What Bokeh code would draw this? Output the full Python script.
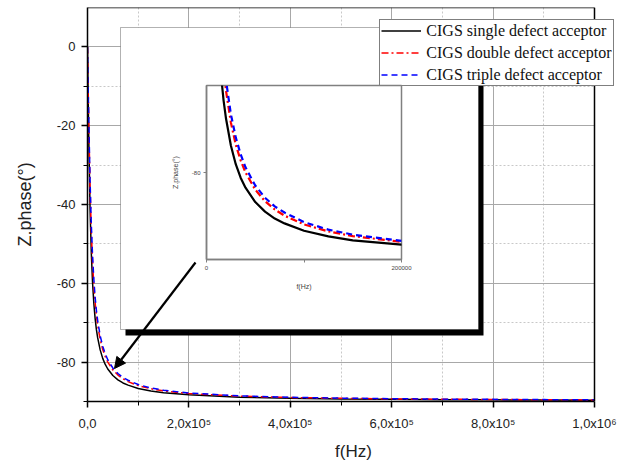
from bokeh.plotting import figure
from bokeh.models import (Range1d, FixedTicker, Legend, LegendItem, BoxAnnotation,
                          Arrow, NormalHead, ColumnDataSource, Span)
from bokeh.layouts import column
from bokeh.embed import file_html
from bokeh.resources import INLINE

# ---------------- data ----------------
freq = [0, 1000, 2500, 5000, 7500, 10000, 12500, 15000, 17500, 20000, 25000, 30000,
        35000, 40000, 50000, 60000, 70000, 80000, 100000, 125000, 150000, 200000,
        300000, 400000, 500000, 600000, 700000, 800000, 900000, 1000000]
phase_single = [0, -9.8, -23.3, -40.8, -52.3, -59.9, -65.1, -68.9, -71.7, -73.8,
                -76.9, -79.05, -80.6, -81.75, -83.4, -84.5, -85.3, -85.85, -86.7,
                -87.35, -87.8, -88.3, -88.9, -89.17, -89.34, -89.45, -89.53, -89.58,
                -89.63, -89.67]
phase_double = [0, -8.1, -19.5, -35.3, -46.8, -54.8, -60.6, -64.8, -68.05, -70.6,
                -74.25, -76.8, -78.6, -80.0, -81.97, -83.3, -84.25, -84.96, -85.97,
                -86.77, -87.31, -87.98, -88.65, -88.99, -89.19, -89.33, -89.42, -89.5,
                -89.55, -89.6]
phase_triple = [0, -7.6, -18.4, -33.7, -45.0, -53.1, -59.0, -63.4, -66.8, -69.4,
                -73.3, -75.96, -77.9, -79.4, -81.5, -82.9, -83.9, -84.6, -85.7,
                -86.57, -87.14, -87.85, -88.57, -88.93, -89.14, -89.28, -89.39, -89.46,
                -89.52, -89.57]
series_names = ["CIGS single defect acceptor", "CIGS double defect acceptor",
                "CIGS triple defect acceptor"]
series_colors = ["#000000", "#ff0000", "#0000ff"]

x_tick_values = [0, 200000, 400000, 600000, 800000, 1000000]
x_tick_labels = ["0,0", "2,0x10\u2075", "4,0x10\u2075", "6,0x10\u2075",
                 "8,0x10\u2075", "1,0x10\u2076"]
x_minor_ticks = [100000, 300000, 500000, 700000, 900000]
y_tick_values = [-80, -60, -40, -20, 0]
y_minor_ticks = [-90, -70, -50, -30, -10]

inset_x_ticks = [0, 100000, 200000]
inset_x_labels = ["0", "", "200000"]
inset_y_ticks = [-80]

src = ColumnDataSource(dict(f=freq, s1=phase_single, s2=phase_double, s3=phase_triple))

# ---------------- layout constants (pixels, page = canvas) ----------------
W, H = 618, 461
ML, MT = 86, 7
FH = 394                    # frame height
MB = H - MT - FH
FW_DATA = 507               # pixels from x=0 to x=1e6
FW = W - ML                 # full frame width (to the canvas edge)
FL, FT = ML, MT
X0, X1, Y0, Y1 = 0, 1000000, -90, 10
XMAX = X0 + (X1 - X0) * FW / FW_DATA


def px(x):
    return X0 + (x - FL) / FW_DATA * (X1 - X0)


def py(y):
    return Y1 - (y - FT) / FH * (Y1 - Y0)


# ---------------- main figure ----------------
p = figure(frame_width=FW, frame_height=FH, x_range=Range1d(X0, XMAX), y_range=Range1d(Y0, Y1),
           output_backend="svg", toolbar_location=None,
           min_border_left=ML, min_border_right=0, min_border_top=MT, min_border_bottom=MB,
           background_fill_color="white", border_fill_color="white")
p.outline_line_color = None

p.xaxis.ticker = FixedTicker(ticks=x_tick_values, minor_ticks=x_minor_ticks)
p.yaxis.ticker = FixedTicker(ticks=y_tick_values, minor_ticks=y_minor_ticks)
p.xaxis.bounds = (X0, X1)
p.xaxis.major_label_overrides = {v: l for v, l in zip(x_tick_values, x_tick_labels)}
p.yaxis.major_label_overrides = {v: str(v) for v in y_tick_values}
for ax in (p.xaxis, p.yaxis):
    ax.axis_line_color = "black"
    ax.axis_line_width = 1.5
    ax.major_tick_line_color = "black"
    ax.major_tick_line_width = 1.5
    ax.minor_tick_line_color = "black"
    ax.minor_tick_line_width = 1
    ax.major_tick_in = 0
    ax.major_tick_out = 6
    ax.minor_tick_in = 0
    ax.minor_tick_out = 4
    ax.major_label_text_font = "Liberation Sans"
    ax.major_label_text_font_size = "13px"
    ax.major_label_text_color = "#222222"
    ax.axis_label_text_font = "Liberation Sans"
    ax.axis_label_text_font_style = "normal"
    ax.axis_label_text_color = "#222222"
p.xaxis.axis_label = "f(Hz)"
p.yaxis.axis_label = "Z.phase(\u00b0)"
p.xaxis.axis_label_text_font_size = "17px"
p.yaxis.axis_label_text_font_size = "18px"
p.xaxis.major_label_standoff = 8
p.xaxis.axis_label_standoff = 8
p.yaxis.major_label_standoff = 6
p.yaxis.axis_label_standoff = 19

for g in (p.xgrid, p.ygrid):
    g.grid_line_color = "#a8a8a8"
    g.grid_line_width = 1
    g.minor_grid_line_color = "#c8c8c8"
    g.minor_grid_line_dash = "2 2"
    g.minor_grid_line_width = 1
p.xgrid.ticker = p.xaxis.ticker
p.ygrid.ticker = p.yaxis.ticker

# blank strip right of the plotting area (the legend overhangs into it)
p.add_layout(BoxAnnotation(left=X1, fill_color="white", fill_alpha=1, line_color=None,
                           level="underlay"))

r1 = p.line("f", "s1", source=src, line_color=series_colors[0], line_width=1.5)
r2 = p.line("f", "s2", source=src, line_color=series_colors[1], line_width=1.5, line_dash="7 3 2 3")
r3 = p.line("f", "s3", source=src, line_color=series_colors[2], line_width=1.5, line_dash="6 4")

# right and top borders of the plotting area
p.add_layout(Span(location=X1, dimension="height", line_color="black", line_width=1.5))
p.segment(x0=[X0], y0=[Y1], x1=[X1], y1=[Y1], line_color="black", line_width=1.5)

# inset box with shadow
p.add_layout(BoxAnnotation(left=px(124), right=px(482), top=py(32), bottom=py(335),
                           fill_color="black", fill_alpha=1, line_color=None, level="annotation"))
p.add_layout(BoxAnnotation(left=px(119), right=px(477), top=py(27), bottom=py(329),
                           fill_color="white", fill_alpha=1, line_color="black", line_width=1,
                           level="annotation"))
p.add_layout(Arrow(x_start=px(194), y_start=py(262), x_end=px(113), y_end=py(368),
                   line_color="black", line_width=2.2,
                   end=NormalHead(size=11, fill_color="black", line_color="black")))

legend = Legend(items=[LegendItem(label=series_names[0], renderers=[r1]),
                       LegendItem(label=series_names[1], renderers=[r2]),
                       LegendItem(label=series_names[2], renderers=[r3])],
                location=(378 - FL + 8, (FT + FH) - 86))
legend.label_text_font = "Liberation Serif"
legend.label_text_font_size = "16px"
legend.label_text_color = "#111111"
legend.border_line_color = "black"
legend.border_line_width = 1
legend.background_fill_color = "white"
legend.background_fill_alpha = 1
legend.padding = 1
legend.spacing = 3
legend.margin = 0
legend.glyph_width = 40
legend.glyph_height = 19
legend.label_height = 19
legend.label_standoff = 5
p.add_layout(legend)

# ---------------- inset figure ----------------
inset = figure(frame_width=195, frame_height=174, x_range=Range1d(0, 200000),
               y_range=Range1d(-90, -70), output_backend="svg", toolbar_location=None,
               min_border_left=87, min_border_right=76, min_border_top=58, min_border_bottom=70,
               background_fill_alpha=0, border_fill_alpha=0,
               styles={"position": "absolute", "left": "119px", "top": "27px"})
inset.grid.visible = False
inset.outline_line_color = "#808080"
inset.outline_line_width = 1.5
inset.xaxis.ticker = FixedTicker(ticks=inset_x_ticks)
inset.yaxis.ticker = FixedTicker(ticks=inset_y_ticks)
inset.xaxis.major_label_overrides = {v: l for v, l in zip(inset_x_ticks, inset_x_labels)}
inset.yaxis.major_label_overrides = {v: str(v) for v in inset_y_ticks}
for ax in (inset.xaxis, inset.yaxis):
    ax.axis_line_color = "#808080"
    ax.axis_line_width = 1.5
    ax.major_tick_line_color = "#808080"
    ax.major_tick_in = 0
    ax.major_tick_out = 3
    ax.minor_tick_line_color = None
    ax.major_label_text_font = "Liberation Sans"
    ax.major_label_text_font_size = "6px"
    ax.major_label_text_color = "#444444"
    ax.major_label_standoff = 3
    ax.axis_label_text_font = "Liberation Sans"
    ax.axis_label_text_font_size = "7px"
    ax.axis_label_text_font_style = "normal"
    ax.axis_label_text_color = "#444444"
inset.xaxis.axis_label = "f(Hz)"
inset.yaxis.axis_label = "Z.phase(\u00b0)"
inset.xaxis.axis_label_standoff = 10
inset.yaxis.axis_label_standoff = 10
inset.line("f", "s1", source=src, line_color=series_colors[0], line_width=2.2)
inset.line("f", "s2", source=src, line_color=series_colors[1], line_width=2.2, line_dash="7 3 2 3")
inset.line("f", "s3", source=src, line_color=series_colors[2], line_width=2.2, line_dash="6 4")

layout = column(p, inset)
open("out.html", "w").write(file_html(layout, INLINE))
